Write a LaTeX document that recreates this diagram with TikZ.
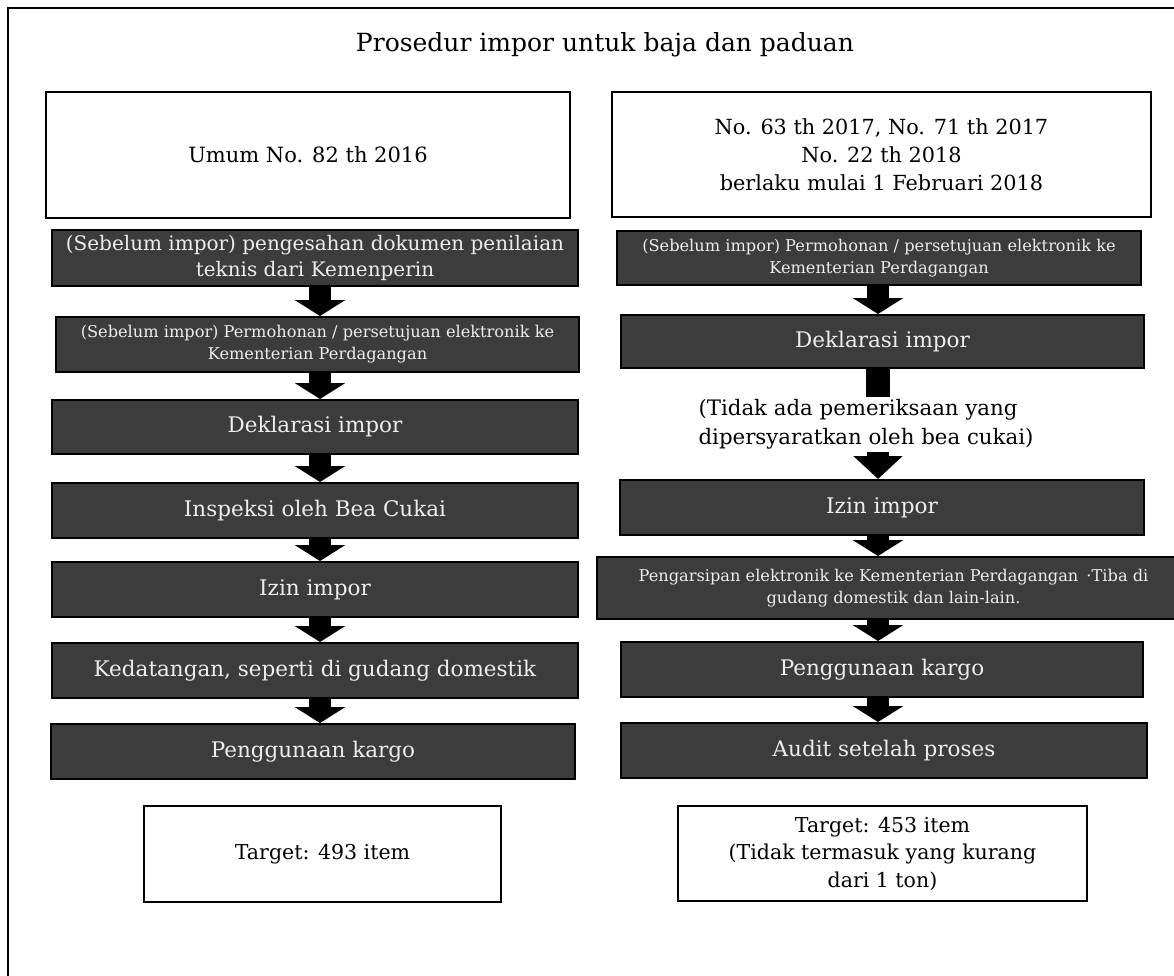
\documentclass[tikz,border=0pt]{standalone}
\usepackage{fontspec}
\setmainfont{DejaVu Serif}
\usetikzlibrary{arrows.meta}
\definecolor{boxdark}{HTML}{3C3C3C}
\definecolor{boxtext}{HTML}{EDEDED}
\begin{document}
\begin{tikzpicture}[x=1pt,y=-1pt,
  hdr/.style={draw=black, line width=2.2pt, fill=white, inner sep=0pt, align=center},
  stepbox/.style={draw=black, line width=2pt, fill=boxdark, text=boxtext, inner sep=0pt, align=center},
  bigtxt/.style={font=\fontsize{21.5}{26}\selectfont},
  smalltxt/.style={font=\fontsize{16.2}{22}\selectfont},
  blockarrow/.style={line width=22pt, -{Triangle[width=50pt,length=16pt]}},
]
\useasboundingbox (0,0) rectangle (1174,976);
\draw[line width=1.5pt] (8,990) -- (8,8) -- (1190,8);
\coordinate (cl) at (320,0);
\coordinate (cr) at (878,0);

\node[font=\fontsize{25}{30}\selectfont] (title) at (605,45) {Prosedur impor untuk baja dan paduan};

\node[hdr, minimum width=524pt, minimum height=126pt, font=\fontsize{21}{28}\selectfont] (lh) at (308,155) {Umum No. 82 th 2016};
\node[hdr, minimum width=539pt, minimum height=125pt, font=\fontsize{20.8}{28}\selectfont] (rh) at (881.5,154.5) {No. 63 th 2017, No. 71 th 2017\\No. 22 th 2018\\berlaku mulai 1 Februari 2018};

% left column
\node[stepbox, font=\fontsize{20}{26}\selectfont, minimum width=526pt, minimum height=56pt] (l1) at (315,258) {(Sebelum impor) pengesahan dokumen penilaian\\teknis dari Kemenperin};
\node[stepbox, smalltxt, minimum width=523pt, minimum height=55pt] (l2) at (317.5,344.5) {(Sebelum impor) Permohonan / persetujuan elektronik ke\\Kementerian Perdagangan};
\node[stepbox, bigtxt, minimum width=526pt, minimum height=54pt] (l3) at (315,427) {Deklarasi impor};
\node[stepbox, bigtxt, minimum width=526pt, minimum height=55pt] (l4) at (315,510.5) {Inspeksi oleh Bea Cukai};
\node[stepbox, bigtxt, minimum width=526pt, minimum height=55pt] (l5) at (315,589.5) {Izin impor};
\node[stepbox, bigtxt, minimum width=526pt, minimum height=55pt] (l6) at (315,670.5) {Kedatangan, seperti di gudang domestik};
\node[stepbox, bigtxt, minimum width=524pt, minimum height=55pt] (l7) at (313,751.5) {Penggunaan kargo};
\node[hdr, line width=2pt, minimum width=357pt, minimum height=96pt, font=\fontsize{20.5}{28}\selectfont] (tl) at (322.5,854) {Target: 493 item};

% right column
\node[stepbox, smalltxt, minimum width=524pt, minimum height=54pt] (r1) at (879,258) {(Sebelum impor) Permohonan / persetujuan elektronik ke\\Kementerian Perdagangan};
\node[stepbox, bigtxt, minimum width=523pt, minimum height=53pt] (r2) at (882.5,341.5) {Deklarasi impor};
\node[fill=white, inner sep=0pt, minimum width=392pt, minimum height=55pt, align=left, font=\fontsize{21.3}{29}\selectfont] (note) at (866,424.5) {(Tidak ada pemeriksaan yang\\dipersyaratkan oleh bea cukai)};
\node[stepbox, bigtxt, minimum width=524pt, minimum height=55pt] (r4) at (882,507.5) {Izin impor};
\node[stepbox, smalltxt, minimum width=593pt, minimum height=62pt] (r5) at (893.5,588) {Pengarsipan elektronik ke Kementerian Perdagangan\enspace·Tiba di\\gudang domestik dan lain-lain.};
\node[stepbox, bigtxt, minimum width=522pt, minimum height=55pt] (r6) at (882,669.5) {Penggunaan kargo};
\node[stepbox, bigtxt, minimum width=526pt, minimum height=55pt] (r7) at (884,750.5) {Audit setelah proses};
\node[hdr, line width=2pt, minimum width=409pt, minimum height=95pt, font=\fontsize{20.5}{27.5}\selectfont] (tr) at (882.5,853.5) {Target: 453 item\\(Tidak termasuk yang kurang\\dari 1 ton)};

% arrows left
\draw[blockarrow] (l1.south -| cl) -- (l2.north -| cl);
\draw[blockarrow] (l2.south -| cl) -- (l3.north -| cl);
\draw[blockarrow] (l3.south -| cl) -- (l4.north -| cl);
\draw[blockarrow] (l4.south -| cl) -- (l5.north -| cl);
\draw[blockarrow] (l5.south -| cl) -- (l6.north -| cl);
\draw[blockarrow] (l6.south -| cl) -- (l7.north -| cl);
% arrows right
\draw[blockarrow] (r1.south -| cr) -- (r2.north -| cr);
\draw[line width=24pt] (r2.south -| cr) -- (note.north -| cr);
\draw[line width=22pt, -{Triangle[width=48pt,length=23pt]}] (note.south -| cr) -- (r4.north -| cr);
\draw[blockarrow] (r4.south -| cr) -- (r5.north -| cr);
\draw[blockarrow] (r5.south -| cr) -- (r6.north -| cr);
\draw[blockarrow] (r6.south -| cr) -- (r7.north -| cr);
\end{tikzpicture}
\end{document}
